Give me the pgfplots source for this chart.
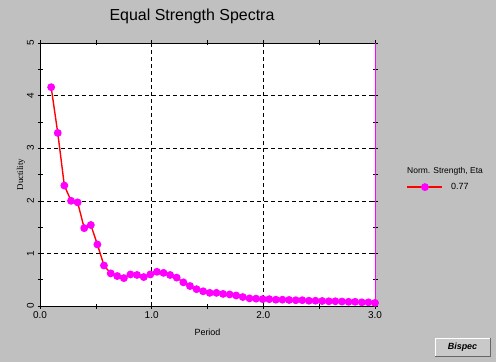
\documentclass[border=0pt]{standalone}
\usepackage{fontspec}
\setmainfont{Liberation Sans}
\newfontfamily\serifnf{Liberation Serif}
\usepackage{pgfplots}
\pgfplotsset{compat=1.18}
\definecolor{bg}{RGB}{192,192,192}
\definecolor{mag}{RGB}{255,0,255}
\begin{document}
\begin{tikzpicture}[x=1bp,y=1bp]
\fill[bg] (0,0) rectangle (496,362);
\node[font=\fontsize{16}{18}\selectfont] at (192,346) {Equal Strength Spectra};
\begin{axis}[
  at={(40bp,56bp)}, anchor=south west,
  scale only axis, width=335bp, height=263bp,
  xmin=0, xmax=3, ymin=0, ymax=5,
  xtick={0,1,2,3}, ytick={0,1,2,3,4,5},
  minor x tick num=1, minor y tick num=1,
  tick align=center, major tick length=5bp, minor tick length=5bp,
  tick style={black, line width=0.6pt},
  axis background/.style={fill=white},
  axis line style={black, line width=0.8pt},
  grid=major, major grid style={black, dash pattern=on 4bp off 3bp, line width=0.6pt},
  xticklabel style={/pgf/number format/.cd, fixed, fixed zerofill, precision=1},
  /pgf/number format/assume math mode=true,
  ticklabel style={font=\fontsize{10}{12}\selectfont},
  yticklabel style={rotate=90, anchor=south},
  xlabel={Period}, xlabel style={font=\fontsize{9}{11}\selectfont, yshift=-3bp},
  ylabel={Ductility}, ylabel style={font=\serifnf\fontsize{9}{11}\selectfont, yshift=-5bp},
  legend style={at={(1.085,0.452)}, anchor=west, draw=none, fill=none,
    font=\fontsize{9}{10}\selectfont, cells={anchor=west}},
  legend image code/.code={\draw[red, line width=1.5pt] (0bp,0bp) -- (35bp,0bp); \fill[mag] (17.5bp,0bp) circle (3.2bp);},
  clip=false,
]
\addplot[red, line width=1.4pt, mark=*, mark size=3.2bp, mark options={fill=mag, draw=mag}] coordinates {
(0.100,4.16) (0.159,3.29) (0.218,2.29) (0.278,2.00) (0.337,1.97)
(0.396,1.48) (0.455,1.54) (0.514,1.17) (0.573,0.77) (0.633,0.62)
(0.692,0.57) (0.751,0.53) (0.810,0.60) (0.869,0.59) (0.929,0.55)
(0.988,0.60) (1.047,0.65) (1.106,0.63) (1.165,0.59) (1.224,0.54)
(1.284,0.45) (1.343,0.38) (1.402,0.32) (1.461,0.28) (1.520,0.25)
(1.580,0.25) (1.639,0.23) (1.698,0.22) (1.757,0.20) (1.816,0.17)
(1.876,0.145) (1.935,0.14) (1.994,0.13) (2.053,0.13) (2.112,0.12)
(2.171,0.12) (2.231,0.115) (2.290,0.11) (2.349,0.11) (2.408,0.10)
(2.467,0.10) (2.527,0.095) (2.586,0.09) (2.645,0.09) (2.704,0.085)
(2.763,0.08) (2.822,0.08) (2.882,0.07) (2.941,0.07) (3.000,0.06)
};
\addlegendentry{\hspace{6bp}0.77}
\draw[mag, line width=1pt] (rel axis cs:1,0) -- (rel axis cs:1,1);
\end{axis}
\node[font=\fontsize{8.5}{10}\selectfont] at (445,191) {Norm. Strength, Eta};
% Bispec button
\fill[bg!85!white] (435,6) rectangle (490,24);
\draw[white, line width=1pt] (435,6) -- (435,24) -- (490,24);
\draw[black!60, line width=1pt] (435,6) -- (490,6) -- (490,24);
\node[font=\bfseries\itshape\fontsize{9}{10}\selectfont] at (462.5,15) {Bispec};
\end{tikzpicture}
\end{document}
